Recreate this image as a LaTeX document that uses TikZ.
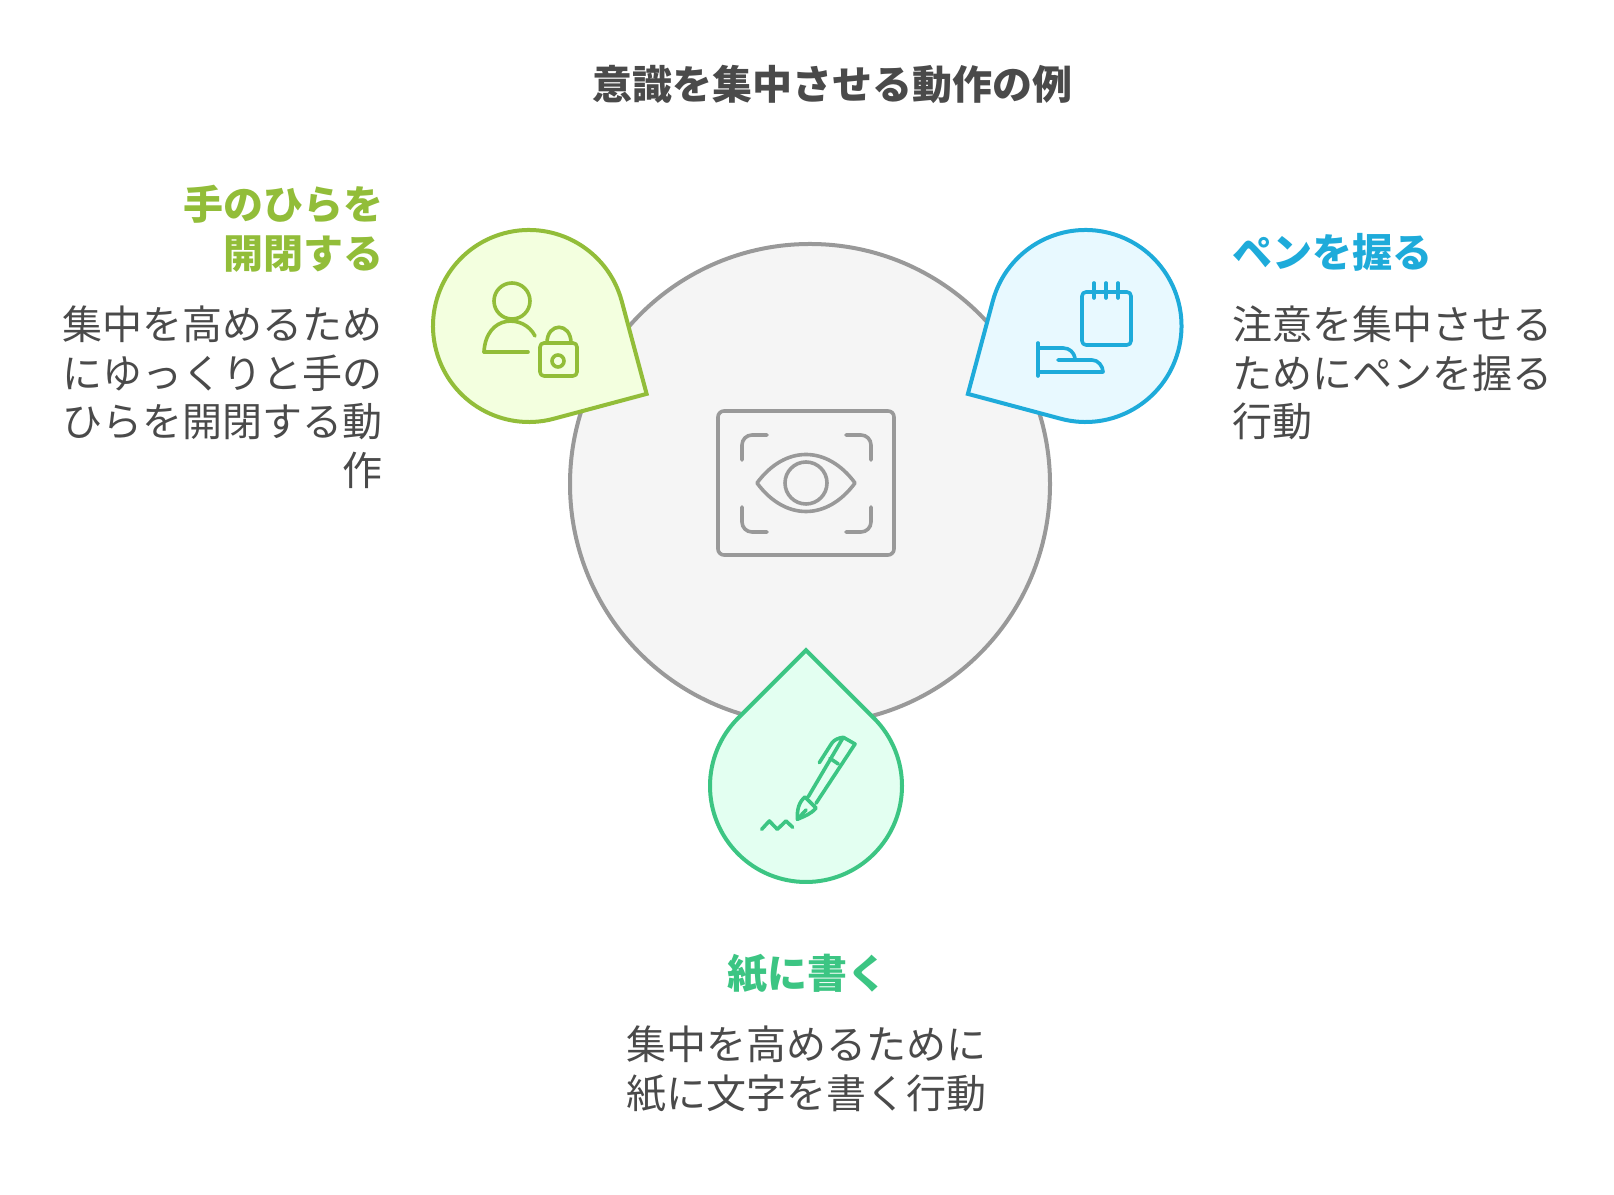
\documentclass[tikz,border=0pt]{standalone}
\usepackage{fontspec}
\setmainfont{Noto Sans CJK JP}
\usepackage{tikz}

\definecolor{ink}{HTML}{4A4A4A}
\definecolor{rim}{HTML}{999999}
\definecolor{core}{HTML}{F5F5F5}
\definecolor{leaf}{HTML}{92BD39}
\definecolor{leafbg}{HTML}{F3FFDF}
\definecolor{sky}{HTML}{1EABDA}
\definecolor{skybg}{HTML}{E8F9FF}
\definecolor{mint}{HTML}{3CC583}
\definecolor{mintbg}{HTML}{E3FFF1}

\tikzset{
	caption/.style={text=ink,font=\fontsize{40}{48.5}\selectfont,inner sep=0pt},
	head/.style={font=\fontsize{40}{48.5}\selectfont\bfseries,inner sep=0pt},
	drop/.style={line width=4pt,line join=miter},
	glyph/.style={line width=3.6pt,line cap=round,line join=round},
}

% one drop: colours, centre, direction of the tip
\newcommand{\dropat}[4]{
	\draw[drop,draw=#1,fill=#2,shift={#3},rotate=#4] (135.8,0) -- (45:96) arc[start angle=45,end angle=315,radius=96] -- cycle;
}

\begin{document}
\begin{tikzpicture}[x=1pt,y=1pt]

	\useasboundingbox (0,0) rectangle (1614,1194);

	\node[head,text=ink,anchor=base] (title) at (832,1094) {意識を集中させる動作の例};

	% the big circle
	\draw[line width=4pt,draw=rim,fill=core] (810,710) circle (240);

	\dropat{leaf}{leafbg}{(529,868)}{-30}
	\dropat{sky}{skybg}{(1085.5,868)}{210}
	\dropat{mint}{mintbg}{(806,408)}{90}

	% eye in the frame
	\begin{scope}[rim,glyph]
		\draw[rounded corners=6pt] (718,639) rectangle (894,783);
		\draw[rounded corners=10pt] (742,734) -- (742,759) -- (767,759);
		\draw[rounded corners=10pt] (846,759) -- (871,759) -- (871,734);
		\draw[rounded corners=10pt] (742,687) -- (742,662) -- (767,662);
		\draw[rounded corners=10pt] (846,662) -- (871,662) -- (871,687);
		\draw (757,711) .. controls (785,749) and (827,749) .. (855,711) .. controls (827,673) and (785,673) .. (757,711) -- cycle;
		\draw (806,711) circle (21);
	\end{scope}

	% person and lock
	\begin{scope}[leaf,glyph]
		\draw (512,893) circle (18);
		\draw (484,842) -- (528,842);
		\draw (484,842) .. controls (486,880) and (524,880) .. (535,858);
		\draw[rounded corners=4pt] (540,818) rectangle (577,851);
		\draw (547,851) .. controls (547,872) and (571,872) .. (571,851);
		\draw (558,833) circle (6);
	\end{scope}

	% notebook and hand
	\begin{scope}[sky,glyph]
		\draw[rounded corners=4pt] (1082,849) rectangle (1131,902);
		\draw (1094,896) -- (1094,911);
		\draw (1106,896) -- (1106,911);
		\draw (1118,896) -- (1118,911);
		\draw (1038,851) -- (1038,818);
		\draw (1038,846) -- (1063,846) .. controls (1070,846) and (1074,841) .. (1075,836);
		\draw (1058,834) -- (1092,834) .. controls (1098,834) and (1103,828) .. (1103,822) -- (1038,822);
	\end{scope}

	% pen and scribble
	\begin{scope}[mint,glyph]
		\draw (808.3,397.3) -- (843.3,456.7) -- (855,450) -- (816,390.7);
		\draw (830,435.7) -- (838.3,430);
		\draw (819.3,431.3) -- (831.7,450.7) .. controls (834,454) and (838,456) .. (843.3,456.7);
		\draw (797.3,374.7) .. controls (797,385) and (799,392) .. (805,397) -- (816,386) .. controls (811,380) and (805,378) .. (797.3,374.7) -- cycle;
		\draw (797.3,374.7) -- (806,384);
		\draw (761.7,364.7) -- (769.3,373) -- (777.3,364.7) -- (786,373) -- (792.7,366.7);
	\end{scope}

	\node[head,text=leaf,align=right,anchor=base east] (leafhead) at (384,925.5) {手のひらを\\開閉する};
	\node[caption,align=right,anchor=base east] (leaftext) at (383,708.5) {集中を高めるため\\にゆっくりと手の\\ひらを開閉する動\\作};

	\node[head,text=sky,align=left,anchor=base west] (skyhead) at (1232,926) {ペンを握る};
	\node[caption,align=left,anchor=base west] (skytext) at (1232,757) {注意を集中させる\\ためにペンを握る\\行動};

	\node[head,text=mint,anchor=base] (minthead) at (807,205) {紙に書く};
	\node[caption,align=center,anchor=base] (minttext) at (806,85.5) {集中を高めるために\\紙に文字を書く行動};

\end{tikzpicture}
\end{document}
